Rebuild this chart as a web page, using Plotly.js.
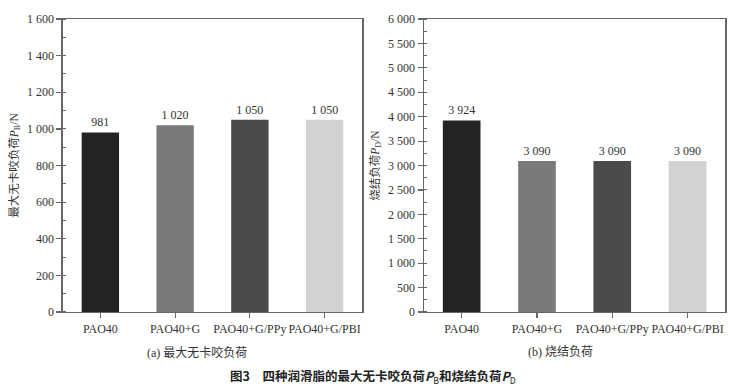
<!DOCTYPE html>
<html><head><meta charset="utf-8">
<script src="https://cdn.plot.ly/plotly-3.0.1.min.js"></script>
<style>html,body{margin:0;padding:0;background:#fff}#c{width:740px;height:389px}</style>
</head><body><div id="c"></div>
<script>
const categories = ["PAO40", "PAO40+G", "PAO40+G/PPy", "PAO40+G/PBI"];
const maxNonSeizureLoad = [981, 1020, 1050, 1050];   // P_B / N
const weldLoad = [3924, 3090, 3090, 3090];            // P_D / N
const barColors = ["#232323", "#7a7a7c", "#4b4b4d", "#d2d2d2"];
const panelLabels = ["(a) 最大无卡咬负荷", "(b) 烧结负荷"];

const fmt = v => String(v).replace(/\B(?=(\d{3})+(?!\d))/g, " ");
const FONT = "Liberation Serif, Times New Roman, Noto Sans CJK SC, serif";
const TXT = "#333";

function bar(y, xa, ya){
  return {type:"bar", x:categories, y:y, xaxis:xa, yaxis:ya, width:0.5,
    marker:{color:barColors, line:{width:0}},
    text:y.map(fmt), textposition:"outside", cliponaxis:false,
    textfont:{family:FONT, size:12, color:TXT}, hoverinfo:"skip"};
}
function xax(domain, anchor){
  return {domain:domain, anchor:anchor, showline:true, mirror:true, linecolor:"#666", linewidth:1.5,
    ticks:"outside", ticklen:5, tickwidth:1.2, tickcolor:"#666", range:[-0.5,3.5], tickangle:0,
    tickfont:{family:FONT, size:12, color:TXT}, showgrid:false, zeroline:false, fixedrange:true};
}
function yax(range, dtick, minorDtick, anchor, title){
  return {domain:[0.198,0.951], anchor:anchor, range:range, dtick:dtick, tick0:0,
    showline:true, mirror:true, linecolor:"#666", linewidth:1.5,
    ticks:"outside", ticklen:5, tickwidth:1.2, tickcolor:"#666",
    minor:{dtick:minorDtick, ticks:"inside", ticklen:3, tickcolor:"#666", tickwidth:1},
    separatethousands:true, showgrid:false, zeroline:false,
    tickfont:{family:FONT, size:12, color:TXT},
    title:{text:title, font:{family:FONT, size:11.5, color:TXT}, standoff:6}};
}

const data = [bar(maxNonSeizureLoad, "x", "y"), bar(weldLoad, "x2", "y2")];
const layout = {
  width:740, height:389, margin:{l:0,r:0,t:0,b:0},
  paper_bgcolor:"#fff", plot_bgcolor:"#fff", showlegend:false, separators:". ",
  bargap:0.5,
  xaxis: xax([0.0851,0.4892],"y"),
  xaxis2: xax([0.573,0.980],"y2"),
  yaxis: yax([0,1600],200,100,"x","最大无卡咬负荷<i>P</i><sub>B</sub>/N"),
  yaxis2: yax([0,6000],500,250,"x2","烧结负荷<i>P</i><sub>D</sub>/N"),
  annotations:[
    {text:panelLabels[0], xref:"paper", yref:"paper", x:197/740, y:1-352/389, showarrow:false,
     xanchor:"center", yanchor:"middle", font:{family:FONT, size:12, color:TXT}},
    {text:panelLabels[1], xref:"paper", yref:"paper", x:560/740, y:1-352/389, showarrow:false,
     xanchor:"center", yanchor:"middle", font:{family:FONT, size:12, color:TXT}},
    {text:"<b>图3　四种润滑脂的最大无卡咬负荷<i>P</i></b><sub>B</sub><b>和烧结负荷<i>P</i></b><sub>D</sub>",
     xref:"paper", yref:"paper", x:373/740, y:1-376/389, showarrow:false,
     xanchor:"center", yanchor:"middle", font:{family:"Noto Sans CJK SC, sans-serif", size:12.5, color:"#222"}}
  ]
};
Plotly.newPlot("c", data, layout, {staticPlot:true});
</script></body></html>
